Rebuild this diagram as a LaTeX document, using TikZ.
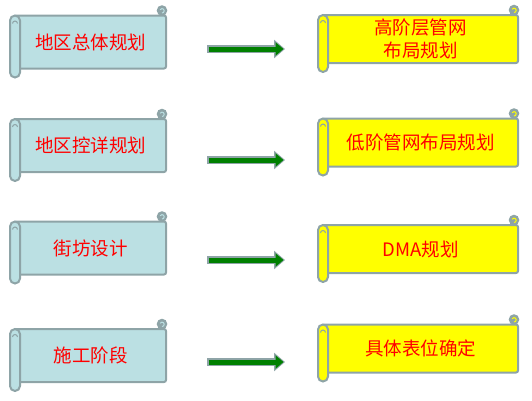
\documentclass[tikz,border=0pt]{standalone}
\usepackage{fontspec}
\usepackage{tikz}
\usetikzlibrary{arrows.meta}
\newfontfamily\cjk{Noto Sans CJK SC}
\definecolor{rimgray}{HTML}{8EA4A7}
\definecolor{paperblue}{HTML}{BBE0E3}
\definecolor{paperyellow}{HTML}{FFFF00}
\definecolor{arrowgreen}{HTML}{008000}

\begin{document}
\begin{tikzpicture}[x=1pt,y=-1pt,
    paper/.style={draw=rimgray,line width=2pt,rounded corners=2pt,outer sep=0pt,align=center,text=red,font=\cjk\fontsize{18.5}{23}\selectfont},
    plan/.style={paper,fill=paperblue,minimum width=151pt,minimum height=53pt},
    goal/.style={paper,fill=paperyellow,minimum width=195pt,minimum height=48pt},
    flow/.style={draw=arrowgreen,line width=5pt,shorten <=42.5pt,shorten >=39.5pt,-{Triangle[length=8pt,width=13pt]},
        preaction={draw=rimgray,line width=8pt,shorten <=41pt,shorten >=38pt,-{Triangle[length=11pt,width=18pt]}}}]
    \useasboundingbox (0,0) rectangle (532,400);
            \node (l1) at (90.5,42)[plan]{地区总体规划};
            \node (r1) at (420.5,39)[goal]{高阶层管网\\布局规划};
            \node (l2) at (90.5,145.5)[plan]{地区控详规划};
            \node (r2) at (420.5,142.5)[goal]{低阶管网布局规划};
            \node (l3) at (90.5,248)[plan]{街坊设计};
            \node (r3) at (420.5,249)[goal]{DMA规划};
            \node (l4) at (90.5,355.5)[plan]{施工阶段};
            \node (r4) at (420.5,348.5)[goal]{具体表位确定};
            \foreach \n/\c in {l1/paperblue,l2/paperblue,l3/paperblue,l4/paperblue,r1/paperyellow,r2/paperyellow,r3/paperyellow,r4/paperyellow}{
                \draw [draw=rimgray,line width=2pt,fill=\c,rounded corners=5pt] ([xshift=-5pt]\n.north west) rectangle ([xshift=5pt,yshift=-9pt]\n.south west);
                \draw [rimgray,line width=1pt] ([xshift=-2.5pt,yshift=-8pt]\n.north west) arc[start angle=180,end angle=0,radius=2.5pt];
                \draw [draw=rimgray,line width=1.5pt,fill=rimgray] ([xshift=-4pt,yshift=5pt]\n.north east) circle[radius=4.5pt];
                \draw [\c,line width=1pt] ([xshift=-4pt,yshift=2.5pt]\n.north east) arc[start angle=-90,end angle=150,radius=2.2pt];
            }
            \draw [flow] ([yshift=-7pt]l1.east)--([yshift=-10pt]r1.west);
            \draw [flow] ([yshift=-14.5pt]l2.east)--([yshift=-17.5pt]r2.west);
            \draw [flow] ([yshift=-12pt]l3.east)--([yshift=-11pt]r3.west);
            \draw [flow] ([yshift=-6.5pt]l4.east)--([yshift=-13.5pt]r4.west);
\end{tikzpicture}
\end{document}
